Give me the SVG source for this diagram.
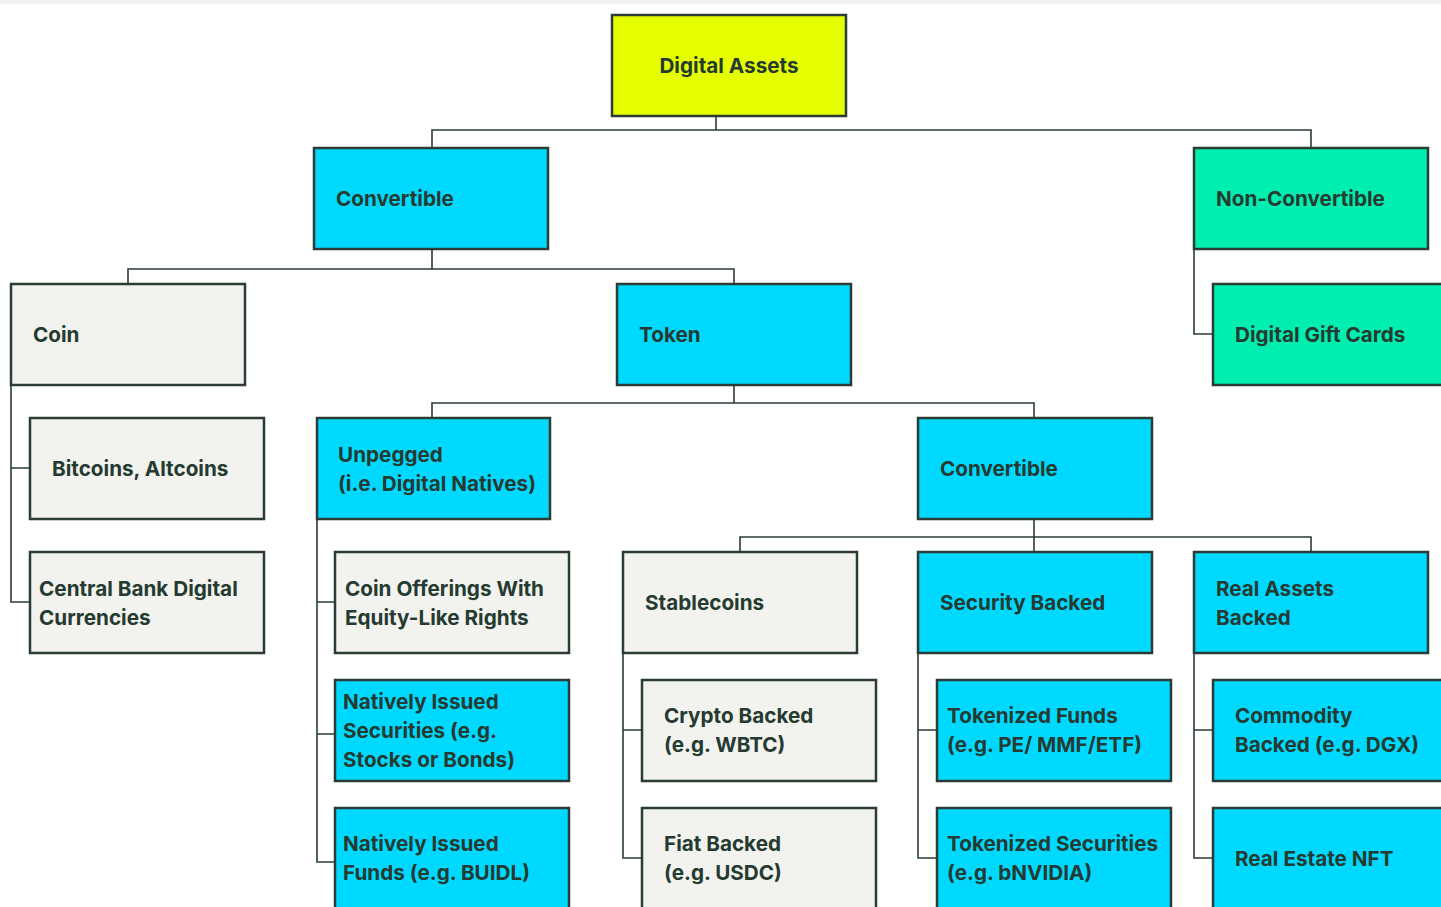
<svg xmlns="http://www.w3.org/2000/svg" width="1441" height="907" viewBox="0 0 1441 907">
<style>
.b{stroke:#2a3c33;stroke-width:2.5}
.y{fill:#e5ff00}.c{fill:#00d9ff}.g{fill:#00eeb0}.w{fill:#f2f2ee}
text{font-family:Inter,"Liberation Sans",sans-serif;font-weight:700;font-size:20.7px;fill:#253a30}
.cn{fill:none;stroke:#2a3c33;stroke-width:1.6}
</style>
<rect x="0" y="0" width="1441" height="907" fill="#ffffff"/>
<rect x="0" y="0" width="1441" height="4" fill="#f2f2ee"/>
<g id="connectors" class="cn">
<path d="M716 116V130M432 147V130H1311V147"/>
<path d="M432 249V269M128 283V269H734V283"/>
<path d="M1194 249V334H1212"/>
<path d="M11 385V602H29M11 468H29"/>
<path d="M734 385V403M432 417V403H1034V417"/>
<path d="M317 519V862H334M317 602H334M317 734H334"/>
<path d="M1034 519V537M740 551V537H1311V551M1034 537V551"/>
<path d="M623 653V858H641M623 730H641"/>
<path d="M918 653V858H936M918 730H936"/>
<path d="M1194 653V858H1212M1194 730H1212"/>
</g>
<g id="n-digital-assets"><rect class="b y" x="612" y="15" width="234" height="101"/><text x="729" y="73" text-anchor="middle">Digital Assets</text></g>
<g id="n-convertible"><rect class="b c" x="314" y="148" width="234" height="101"/><text x="336" y="206">Convertible</text></g>
<g id="n-non-convertible"><rect class="b g" x="1194" y="148" width="234" height="101"/><text x="1216" y="206">Non-Convertible</text></g>
<g id="n-coin"><rect class="b w" x="11" y="284" width="234" height="101"/><text x="33" y="342">Coin</text></g>
<g id="n-token"><rect class="b c" x="617" y="284" width="234" height="101"/><text x="639" y="342">Token</text></g>
<g id="n-gift-cards"><rect class="b g" x="1213" y="284" width="234" height="101"/><text x="1235" y="342">Digital Gift Cards</text></g>
<g id="n-bitcoins"><rect class="b w" x="30" y="418" width="234" height="101"/><text x="52" y="476">Bitcoins, Altcoins</text></g>
<g id="n-unpegged"><rect class="b c" x="317" y="418" width="233" height="101"/><text x="338" y="462">Unpegged</text><text x="338" y="491">(i.e. Digital Natives)</text></g>
<g id="n-convertible-2"><rect class="b c" x="918" y="418" width="234" height="101"/><text x="940" y="476">Convertible</text></g>
<g id="n-cbdc"><rect class="b w" x="30" y="552" width="234" height="101"/><text x="39" y="596">Central Bank Digital</text><text x="39" y="625">Currencies</text></g>
<g id="n-coin-offerings"><rect class="b w" x="335" y="552" width="234" height="101"/><text x="345" y="596">Coin Offerings With</text><text x="345" y="625">Equity-Like Rights</text></g>
<g id="n-stablecoins"><rect class="b w" x="623" y="552" width="234" height="101"/><text x="645" y="610">Stablecoins</text></g>
<g id="n-security-backed"><rect class="b c" x="918" y="552" width="234" height="101"/><text x="940" y="610">Security Backed</text></g>
<g id="n-real-assets"><rect class="b c" x="1194" y="552" width="234" height="101"/><text x="1216" y="596">Real Assets</text><text x="1216" y="625">Backed</text></g>
<g id="n-natively-securities"><rect class="b c" x="335" y="680" width="234" height="101"/><text x="343" y="709">Natively Issued</text><text x="343" y="738">Securities (e.g.</text><text x="343" y="767">Stocks or Bonds)</text></g>
<g id="n-crypto-backed"><rect class="b w" x="642" y="680" width="234" height="101"/><text x="664" y="723">Crypto Backed</text><text x="664" y="752">(e.g. WBTC)</text></g>
<g id="n-tokenized-funds"><rect class="b c" x="937" y="680" width="234" height="101"/><text x="947" y="723">Tokenized Funds</text><text x="947" y="752">(e.g. PE/ MMF/ETF)</text></g>
<g id="n-commodity"><rect class="b c" x="1213" y="680" width="234" height="101"/><text x="1235" y="723">Commodity</text><text x="1235" y="752">Backed (e.g. DGX)</text></g>
<g id="n-natively-funds"><rect class="b c" x="335" y="808" width="234" height="101"/><text x="343" y="851">Natively Issued</text><text x="343" y="880">Funds (e.g. BUIDL)</text></g>
<g id="n-fiat-backed"><rect class="b w" x="642" y="808" width="234" height="101"/><text x="664" y="851">Fiat Backed</text><text x="664" y="880">(e.g. USDC)</text></g>
<g id="n-tokenized-securities"><rect class="b c" x="937" y="808" width="234" height="101"/><text x="947" y="851">Tokenized Securities</text><text x="947" y="880">(e.g. bNVIDIA)</text></g>
<g id="n-real-estate"><rect class="b c" x="1213" y="808" width="234" height="101"/><text x="1235" y="866">Real Estate NFT</text></g>
</svg>
